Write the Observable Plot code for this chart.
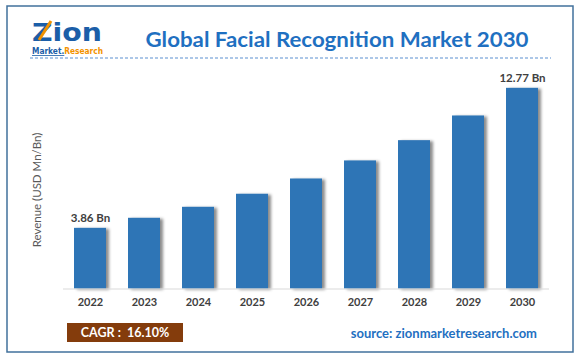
<!DOCTYPE html>
<html>
<head>
<meta charset="utf-8">
<script src="https://cdn.jsdelivr.net/npm/d3@7"></script>
<script src="https://cdn.jsdelivr.net/npm/@observablehq/plot@0.6"></script>
<style>
  html, body { margin: 0; padding: 0; background: #fff; }
  #chart { width: 580px; height: 361px; position: relative; }
</style>
</head>
<body>
<div id="chart"></div>
<script>
const years = ["2022", "2023", "2024", "2025", "2026", "2027", "2028", "2029", "2030"];
const revenue = [3.86, 4.50, 5.20, 6.03, 7.00, 8.15, 9.44, 11.01, 12.77];
const valueLabels = ["3.86 Bn", "", "", "", "", "", "", "", "12.77 Bn"];
const titleText = "Global Facial Recognition Market 2030";
const yLabelText = "Revenue (USD Mn/Bn)";
const cagrText = "CAGR :  16.10%";
const sourceText = "source: zionmarketresearch.com";

const data = years.map((y, i) => ({ year: y, value: revenue[i], label: valueLabels[i] }));

const font = "Lato, 'Open Sans', sans-serif";

const plot = Plot.plot({
  width: 580,
  height: 361,
  marginLeft: 63,
  marginRight: 31,
  marginTop: 68.5,
  marginBottom: 72.5,
  style: { fontFamily: font, background: "transparent", overflow: "visible" },
  x: { domain: years, paddingInner: 0.41, paddingOuter: 0.205, label: null },
  y: { domain: [0, 14], axis: null },
  marks: [
    Plot.barY(data, { x: "year", y: "value", fill: "#2e75b6", className: "bars" }),
    Plot.ruleY([0], { stroke: "#d9d9d9", strokeWidth: 1.2 }),
    Plot.text(data.filter(d => d.label), {
      x: "year", y: "value", text: "label",
      lineAnchor: "bottom", dy: -6,
      fill: "#404040", fontWeight: "bold", fontSize: 11.5
    }),
    Plot.axisX({
      tickSize: 0, tickPadding: 9, label: null,
      fontWeight: "bold", fontSize: 11, fill: "#404040"
    })
  ]
});

document.getElementById("chart").appendChild(plot);

const svg = d3.select(plot);
svg.attr("font-family", font);

// drop shadow on bars
const defs = svg.insert("defs", ":first-child");
const f = defs.append("filter").attr("id", "barshadow")
  .attr("x", "-20%").attr("y", "-10%").attr("width", "150%").attr("height", "120%");
f.append("feDropShadow").attr("dx", 3).attr("dy", 1).attr("stdDeviation", 1.6)
  .attr("flood-color", "#000").attr("flood-opacity", 0.45);
svg.selectAll("g.bars").attr("filter", "url(#barshadow)");

// outer frame
svg.append("rect").attr("x", 7).attr("y", 6).attr("width", 566).attr("height", 346)
  .attr("fill", "none").attr("stroke", "#41719c").attr("stroke-width", 1.5);

// title
svg.append("text").attr("x", 337).attr("y", 47).attr("text-anchor", "middle")
  .attr("font-size", 21).attr("font-weight", "bold").attr("fill", "#1f70c1")
  .attr("textLength", 383).attr("lengthAdjust", "spacingAndGlyphs")
  .text(titleText);

// dashed separator
svg.append("line").attr("x1", 30).attr("x2", 551).attr("y1", 58).attr("y2", 58)
  .attr("stroke", "#5b8fd0").attr("stroke-width", 1).attr("stroke-dasharray", "3,2");

// logo
const logo = svg.append("g").attr("text-anchor", "start");
logo.append("text").attr("x", 32).attr("y", 41).attr("text-anchor", "start")
  .attr("font-family", "'DejaVu Sans', sans-serif").attr("font-weight", "bold")
  .attr("font-size", 25).attr("fill", "#1b5ea8")
  .attr("textLength", 70).attr("lengthAdjust", "spacingAndGlyphs")
  .text("Zion");
logo.append("line").attr("x1", 39).attr("y1", 40).attr("x2", 51).attr("y2", 21)
  .attr("stroke", "#f39200").attr("stroke-width", 3);
const sub = logo.append("text").attr("x", 32).attr("y", 54).attr("text-anchor", "start")
  .attr("font-family", "'DejaVu Sans', sans-serif").attr("font-weight", "bold")
  .attr("font-size", 8).attr("textLength", 71).attr("lengthAdjust", "spacingAndGlyphs");
sub.append("tspan").attr("fill", "#1b5ea8").attr("text-decoration", "underline").text("Market.");
sub.append("tspan").attr("fill", "#f39200").text("Research");

// y label
svg.append("text").attr("transform", "translate(41,190) rotate(-90)")
  .attr("text-anchor", "middle").attr("font-size", 11.5).attr("fill", "#595959")
  .text(yLabelText);

// CAGR box
svg.append("rect").attr("x", 67).attr("y", 323).attr("width", 116).attr("height", 19)
  .attr("fill", "#843c0c");
svg.append("text").attr("x", 125).attr("y", 337).attr("text-anchor", "middle")
  .attr("font-size", 12.5).attr("font-weight", "bold").attr("fill", "#ffffff")
  .attr("xml:space", "preserve").style("white-space", "pre")
  .text(cagrText);

// source
svg.append("text").attr("x", 537).attr("y", 338).attr("text-anchor", "end")
  .attr("font-size", 13).attr("font-weight", "bold").attr("fill", "#1f70c1")
  .text(sourceText);
</script>
</body>
</html>
